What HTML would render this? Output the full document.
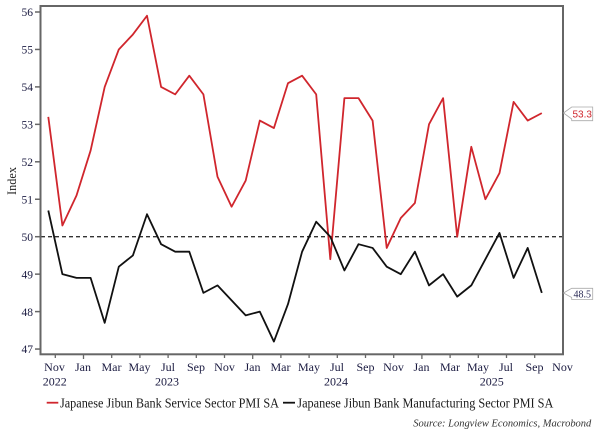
<!DOCTYPE html>
<html><head><meta charset="utf-8"><style>
html,body{margin:0;padding:0;background:#fff;}
svg{display:block;}
</style></head><body>
<svg width="600" height="438" viewBox="0 0 600 438" xmlns="http://www.w3.org/2000/svg" font-family="'Liberation Serif', serif">
<rect width="600" height="438" fill="#fff"/>
<!-- dashed 50 line -->
<line x1="41" y1="236.7" x2="562" y2="236.7" stroke="#333" stroke-width="1.3" stroke-dasharray="4,3"/>
<!-- series -->
<polyline fill="none" stroke="#d0262d" stroke-width="1.8" stroke-linejoin="round" points="48.3,116.86 62.4,225.47 76.5,195.5 90.6,150.56 104.7,86.9 118.8,49.45 132.9,34.47 147,15.74 161.1,86.9 175.2,94.39 189.3,75.66 203.4,94.39 217.5,176.78 231.6,206.74 245.7,180.52 259.8,120.6 273.9,128.1 288,83.15 302.1,75.66 316.2,94.39 330.3,259.17 344.4,98.13 358.5,98.13 372.6,120.6 386.7,247.94 400.8,217.97 414.9,203 429,124.35 443.1,98.13 457.2,236.7 471.3,146.82 485.4,199.25 499.5,173.03 513.6,101.88 527.7,120.6 541.8,113.11"/>
<polyline fill="none" stroke="#111" stroke-width="1.8" stroke-linejoin="round" points="48.3,210.5 62.4,274.15 76.5,277.9 90.6,277.9 104.7,322.84 118.8,266.66 132.9,255.43 147,214.23 161.1,244.19 175.2,251.68 189.3,251.68 203.4,292.88 217.5,285.39 231.6,300.37 245.7,315.35 259.8,311.6 273.9,341.56 288,304.11 302.1,251.68 316.2,221.72 330.3,236.7 344.4,270.41 358.5,244.19 372.6,247.94 386.7,266.66 400.8,274.15 414.9,251.68 429,285.39 443.1,274.15 457.2,296.62 471.3,285.39 485.4,259.17 499.5,232.96 513.6,277.9 527.7,247.94 541.8,292.88"/>
<!-- frame -->
<rect x="40.5" y="6" width="522.5" height="348.3" fill="none" stroke="#666" stroke-width="2"/>
<!-- y ticks -->
<g stroke="#666" stroke-width="1.5">
<line x1="35" y1="12" x2="40" y2="12"/>
<line x1="35" y1="49.45" x2="40" y2="49.45"/>
<line x1="35" y1="86.9" x2="40" y2="86.9"/>
<line x1="35" y1="124.35" x2="40" y2="124.35"/>
<line x1="35" y1="161.8" x2="40" y2="161.8"/>
<line x1="35" y1="199.25" x2="40" y2="199.25"/>
<line x1="35" y1="236.7" x2="40" y2="236.7"/>
<line x1="35" y1="274.15" x2="40" y2="274.15"/>
<line x1="35" y1="311.6" x2="40" y2="311.6"/>
<line x1="35" y1="349.05" x2="40" y2="349.05"/>
</g>
<g font-size="11.5" fill="#1a1a40" text-anchor="end">
<text x="33" y="16">56</text>
<text x="33" y="53.5">55</text>
<text x="33" y="91">54</text>
<text x="33" y="128.5">53</text>
<text x="33" y="166">52</text>
<text x="33" y="203.5">51</text>
<text x="33" y="241">50</text>
<text x="33" y="278.5">49</text>
<text x="33" y="316">48</text>
<text x="33" y="353">47</text>
</g>
<text transform="translate(16,181) rotate(-90)" text-anchor="middle" font-size="13" fill="#222" textLength="28" lengthAdjust="spacingAndGlyphs">Index</text>
<!-- x ticks -->
<g stroke="#666" stroke-width="1.3">
<line x1="55.3" y1="354" x2="55.3" y2="358"/>
<line x1="83.5" y1="354" x2="83.5" y2="359"/>
<line x1="111.7" y1="354" x2="111.7" y2="358"/>
<line x1="139.9" y1="354" x2="139.9" y2="358"/>
<line x1="168.1" y1="354" x2="168.1" y2="358"/>
<line x1="196.3" y1="354" x2="196.3" y2="358"/>
<line x1="224.5" y1="354" x2="224.5" y2="358"/>
<line x1="252.7" y1="354" x2="252.7" y2="359"/>
<line x1="280.9" y1="354" x2="280.9" y2="358"/>
<line x1="309.1" y1="354" x2="309.1" y2="358"/>
<line x1="337.3" y1="354" x2="337.3" y2="358"/>
<line x1="365.5" y1="354" x2="365.5" y2="358"/>
<line x1="393.7" y1="354" x2="393.7" y2="358"/>
<line x1="421.9" y1="354" x2="421.9" y2="359"/>
<line x1="450.1" y1="354" x2="450.1" y2="358"/>
<line x1="478.3" y1="354" x2="478.3" y2="358"/>
<line x1="506.5" y1="354" x2="506.5" y2="358"/>
<line x1="534.7" y1="354" x2="534.7" y2="358"/>
</g>
<g font-size="12" fill="#1a1a40" text-anchor="middle">
<text x="54.5" y="371">Nov</text>
<text x="83" y="371">Jan</text>
<text x="111.5" y="371">Mar</text>
<text x="139.5" y="371">May</text>
<text x="168" y="371">Jul</text>
<text x="196" y="371">Sep</text>
<text x="224.5" y="371">Nov</text>
<text x="252.5" y="371">Jan</text>
<text x="280.5" y="371">Mar</text>
<text x="309" y="371">May</text>
<text x="337" y="371">Jul</text>
<text x="365.5" y="371">Sep</text>
<text x="393.5" y="371">Nov</text>
<text x="421.5" y="371">Jan</text>
<text x="450" y="371">Mar</text>
<text x="478" y="371">May</text>
<text x="506" y="371">Jul</text>
<text x="534.5" y="371">Sep</text>
<text x="562.5" y="371">Nov</text>
<text x="54.7" y="385.5">2022</text>
<text x="167" y="385.5">2023</text>
<text x="336" y="385.5">2024</text>
<text x="491.7" y="385.5">2025</text>
</g>
<!-- value labels -->
<path d="M563.5,113 L571.7,107 L592.7,107 L592.7,120.7 L571.7,120.7 L571.7,119 Z" fill="#fff" stroke="#aaa" stroke-width="0.8"/>
<text x="582.2" y="117.5" font-size="10" fill="#d0262d" text-anchor="middle" font-family="'Liberation Sans', sans-serif">53.3</text>
<path d="M563.5,293 L571.7,288.3 L592.7,288.3 L592.7,299.5 L571.7,299.5 L571.7,297.5 Z" fill="#fff" stroke="#aaa" stroke-width="0.8"/>
<text x="582.2" y="297.5" font-size="10" fill="#2a2a55" text-anchor="middle">48.5</text>
<!-- legend -->
<line x1="46.7" y1="402.7" x2="58.3" y2="402.7" stroke="#d0262d" stroke-width="1.8"/>
<text x="60" y="407.5" font-size="13.5" fill="#1a1a1a" textLength="219" lengthAdjust="spacingAndGlyphs">Japanese Jibun Bank Service Sector PMI SA</text>
<line x1="283" y1="402.7" x2="295" y2="402.7" stroke="#111" stroke-width="1.8"/>
<text x="297.3" y="407.5" font-size="13.5" fill="#1a1a1a" textLength="256" lengthAdjust="spacingAndGlyphs">Japanese Jibun Bank Manufacturing Sector PMI SA</text>
<!-- source -->
<text x="413.3" y="426.5" font-size="10.5" font-style="italic" fill="#333" textLength="178" lengthAdjust="spacingAndGlyphs">Source: Longview Economics, Macrobond</text>
</svg>
</body></html>
